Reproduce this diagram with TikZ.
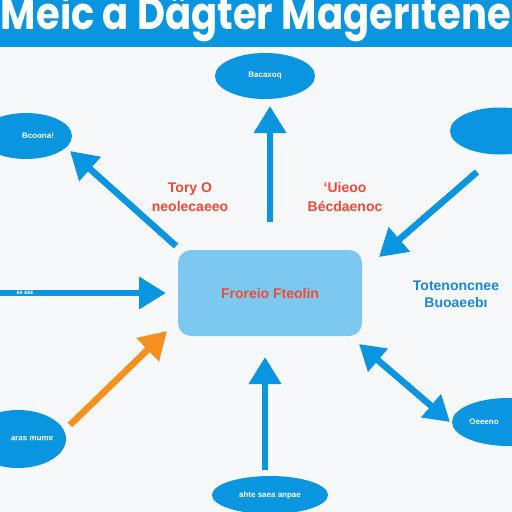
\documentclass[tikz,border=0pt]{standalone}
\usepackage{fontspec}
\setmainfont{Liberation Sans}
\newfontfamily\titlefont{Poppins}
\usetikzlibrary{arrows.meta,shapes.geometric}
\definecolor{bgc}{HTML}{F7F8FA}
\definecolor{mblue}{HTML}{0A95E0}
\definecolor{lblue}{HTML}{7DC8F1}
\definecolor{rtext}{HTML}{F04A34}
\definecolor{oran}{HTML}{F5901E}
\definecolor{btext}{HTML}{1A88D8}
\tikzset{
  oval/.style={ellipse, fill=mblue, draw=none, text=white, font=\bfseries\fontsize{8}{9}\selectfont, inner sep=0pt},
  ovaltext/.style={text=white, font=\bfseries\fontsize{8}{9}\selectfont, inner sep=0pt},
  bigarrow/.style={draw=mblue, line width=6.5pt, -{Triangle[length=27pt,width=31pt]}},
  redlab/.style={text=rtext, font=\bfseries\fontsize{14}{19}\selectfont, align=center},
  bluelab/.style={text=btext, font=\bfseries\fontsize{14}{17}\selectfont, align=center},
}
\begin{document}
\begin{tikzpicture}[x=1pt,y=-1pt]
\useasboundingbox (0,0) rectangle (512,512);
\fill[bgc] (0,0) rectangle (512,512);
% title bar
\fill[mblue] (0,-2) rectangle (512,47);
\node[text=white, font=\titlefont\bfseries] (title) at (256,18) {\resizebox{510pt}{36pt}{Meic a Dägter Magerıtene}};
% ovals
\node[oval, minimum width=100pt, minimum height=46pt] (top) at (265,76) {Bacaxoq};
\node[oval, minimum width=92pt, minimum height=46pt] (tl) at (26,136) {};
\node[ovaltext] (tlt) at (38,136) {Bcoona!};
\node[oval, minimum width=100pt, minimum height=47pt] (tr) at (500,131) {};
\node[oval, minimum width=96pt, minimum height=58pt] (bl) at (18,439) {};
\node[ovaltext] (blt) at (32,439) {\rotatebox{180}{aɯnɯ sɐɹɐ}};
\node[oval, minimum width=116pt, minimum height=38pt] (bot) at (270,495) {ahte saea anpae};
\node[oval, minimum width=112pt, minimum height=48pt] (br) at (508,422) {};
\node[ovaltext] (brt) at (484,422) {Oeeeno};
% center box
\node[fill=lblue, rounded corners=13pt, minimum width=184pt, minimum height=86pt, text=rtext, font=\bfseries\fontsize{14}{15}\selectfont] (center) at (270,293) {Froreio Fteolin};
% labels
\node[redlab] (l1) at (190,197) {Tory O\\neolecaeeo};
\node[redlab] (l2) at (345,197) {‘Uieoo\\Bécdaenoc};
\node[bluelab] (l3) at (456,294) {Totenoncnee\\Buoaeebı};
% arrow anchor coordinates
\coordinate (a1s) at (270,222); \coordinate (a1e) at (270,106);
\coordinate (a2s) at (176,246); \coordinate (a2e) at (70,151);
\coordinate (a3s) at (477,172); \coordinate (a3e) at (379,257);
\coordinate (a4s) at (0,293);   \coordinate (a4e) at (166,293);
\coordinate (a5s) at (70,425);  \coordinate (a5e) at (167,331);
\coordinate (a6s) at (265,470); \coordinate (a6e) at (265,357);
\coordinate (a7s) at (359,344); \coordinate (a7e) at (450,422);
\draw[bigarrow] (a1s) -- (a1e);
\draw[bigarrow] (a2s) -- (a2e);
\draw[bigarrow] (a3s) -- (a3e);
\draw[bigarrow] (a4s) -- (a4e);
\draw[bigarrow, draw=oran] (a5s) -- (a5e);
\draw[bigarrow] (a6s) -- (a6e);
\draw[draw=mblue, line width=6.5pt, {Triangle[length=25pt,width=29pt]}-{Triangle[length=25pt,width=29pt]}] (a7s) -- (a7e);
\node[text=white, font=\bfseries\fontsize{6}{6}\selectfont, inner sep=0pt] (a4t) at (25,293) {ᴇᴇ ᴇᴇᴇ};
\end{tikzpicture}
\end{document}
